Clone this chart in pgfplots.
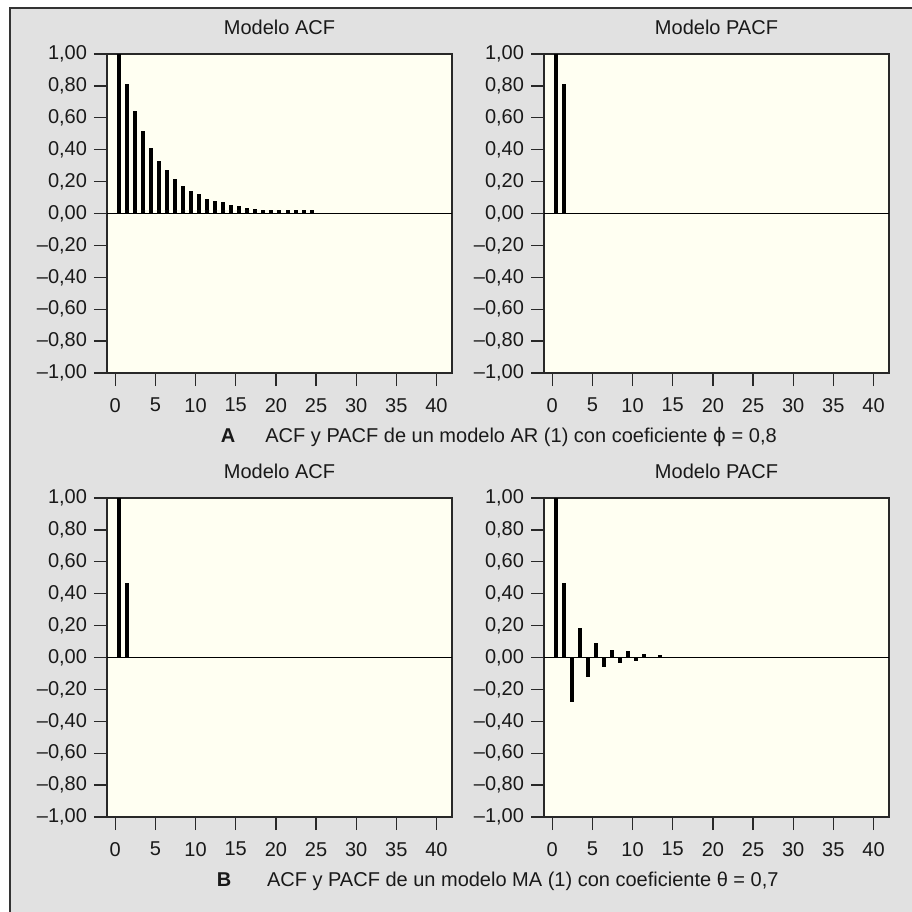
\documentclass[border=0pt]{standalone}
\usepackage{pgfplots}
\pgfplotsset{compat=1.18}
\usepackage{fontspec}
\setmainfont{Liberation Sans}
\newfontfamily\dejavu{DejaVu Sans}
\definecolor{bggray}{RGB}{225,225,225}
\definecolor{panel}{RGB}{255,255,242}
\definecolor{axcol}{RGB}{40,40,40}
\definecolor{txt}{RGB}{25,25,25}
\pgfplotsset{
  acfaxis/.style={
    scale only axis, width=172.5pt, height=159.5pt,
    anchor=north west,
    xmin=-1.48, xmax=41.48, ymin=-1, ymax=1,
    axis background/.style={fill=panel},
    axis line style={axcol, line width=0.75pt},
    tick style={axcol, line width=0.65pt},
    tick align=outside,
    xtick pos=bottom, ytick pos=left,
    major tick length=6.5pt,
    xtick={-0.45,4.55,9.55,14.55,19.55,24.55,29.55,34.55,39.55},
    xticklabels={0,5,10,15,20,25,30,35,40},
    ytick={-1,-0.8,-0.6,-0.4,-0.2,0,0.2,0.4,0.6,0.8,1},
    yticklabels={{–1,00},{–0,80},{–0,60},{–0,40},{–0,20},{0,00},{0,20},{0,40},{0,60},{0,80},{1,00}},
    tick label style={font=\fontsize{10}{12}\selectfont, text=txt},
    xticklabel style={yshift=-2.5pt},
    title style={font=\fontsize{10}{12}\selectfont, text=txt, at={(0.5,1)}, anchor=base, yshift=4pt, inner sep=0pt},
  },
  bars/.style={black, ycomb, line width=2pt, mark=none},
  zeroline/.style={black, line width=0.5pt, mark=none},
}
\begin{document}
\begin{tikzpicture}
\useasboundingbox (0,0) rectangle (456pt,-456pt);
\fill[white] (0,0) rectangle (456pt,-456pt);
\fill[bggray] (5pt,-4pt) rectangle (456pt,-456pt);
\draw[line width=0.6pt, black!80] (5pt,-456pt) -- (5pt,-4pt) -- (456pt,-4pt);

% Panel A ACF
\begin{axis}[acfaxis, at={(53.5pt,-27pt)}, title={Modelo ACF}]
\addplot[zeroline] coordinates {(-1.48,0) (41.48,0)};
\addplot[bars] coordinates {
(0,1) (1,0.81) (2,0.644) (3,0.52) (4,0.41) (5,0.332) (6,0.27) (7,0.218) (8,0.171) (9,0.14)
(10,0.123) (11,0.094) (12,0.079) (13,0.071) (14,0.056) (15,0.044) (16,0.033) (17,0.029) (18,0.021)
(19,0.02) (20,0.02) (21,0.02) (22,0.02) (23,0.02) (24,0.02)};
\end{axis}

% Panel A PACF
\begin{axis}[acfaxis, at={(272pt,-27pt)}, title={Modelo PACF}]
\addplot[zeroline] coordinates {(-1.48,0) (41.48,0)};
\addplot[bars] coordinates {(0,1) (1,0.81)};
\end{axis}

% Panel B ACF
\begin{axis}[acfaxis, at={(53.5pt,-249pt)}, title={Modelo ACF}]
\addplot[zeroline] coordinates {(-1.48,0) (41.48,0)};
\addplot[bars] coordinates {(0,1) (1,0.47)};
\end{axis}

% Panel B PACF
\begin{axis}[acfaxis, at={(272pt,-249pt)}, title={Modelo PACF}]
\addplot[zeroline] coordinates {(-1.48,0) (41.48,0)};
\addplot[bars] coordinates {
(0,1) (1,0.47) (2,-0.28) (3,0.184) (4,-0.123) (5,0.094) (6,-0.06) (7,0.044) (8,-0.035)
(9,0.038) (10,-0.025) (11,0.023) (13,0.017)};
\end{axis}

\node[anchor=base, inner sep=0pt, text=txt, font=\fontsize{10}{12}\selectfont\bfseries] at (114pt,-221pt) {A};
\node[anchor=base west, inner sep=0pt, text=txt, font=\fontsize{10}{12}\selectfont] at (132.5pt,-221pt) {ACF y PACF de un modelo AR (1) con coeficiente {\dejavu ϕ} = 0,8};
\node[anchor=base, inner sep=0pt, text=txt, font=\fontsize{10}{12}\selectfont\bfseries] at (112pt,-443pt) {B};
\node[anchor=base west, inner sep=0pt, text=txt, font=\fontsize{10}{12}\selectfont] at (133.3pt,-443pt) {ACF y PACF de un modelo MA (1) con coeficiente θ = 0,7};
\end{tikzpicture}
\end{document}
